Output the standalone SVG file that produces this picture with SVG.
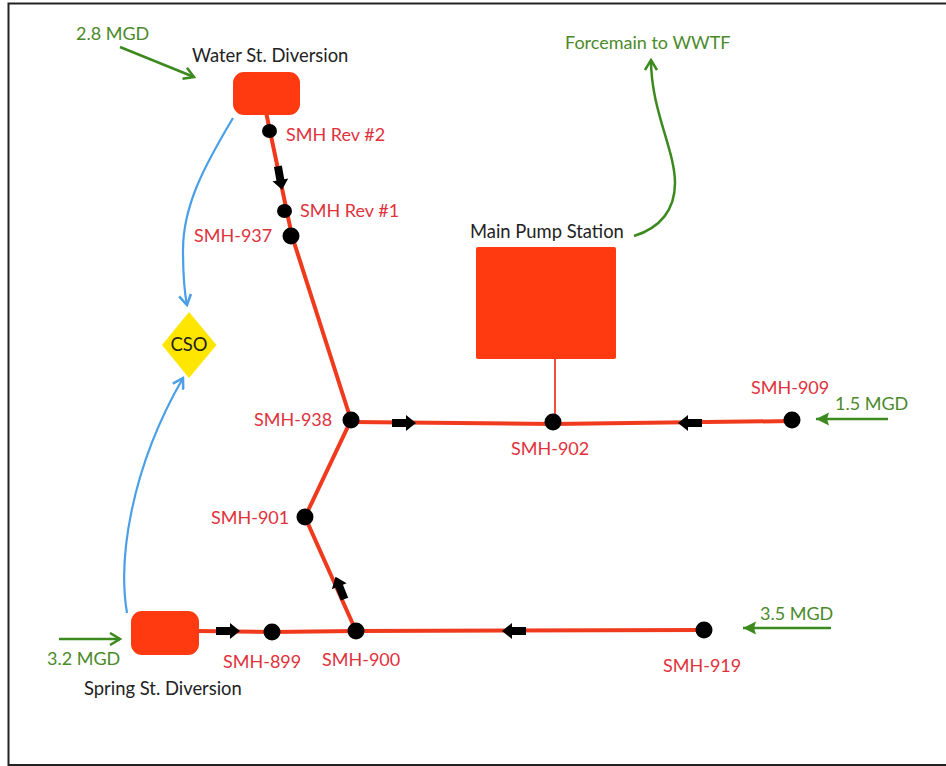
<svg xmlns="http://www.w3.org/2000/svg" width="946" height="766" viewBox="0 0 946 766">
<defs>
<marker id="g" markerWidth="14" markerHeight="14" refX="12" refY="7" orient="auto" markerUnits="userSpaceOnUse"><path d="M2 1L12 7L2 13" fill="none" stroke="#3c8a1e" stroke-width="2.500"/></marker>
<marker id="gf" markerWidth="14" markerHeight="14" refX="13" refY="7" orient="auto" markerUnits="userSpaceOnUse"><path d="M13 7L0 0.500L2 7L0 13.500Z" fill="#3c8a1e"/></marker>
<marker id="b" markerWidth="14" markerHeight="14" refX="12" refY="7" orient="auto" markerUnits="userSpaceOnUse"><path d="M2 1L12 7L2 13" fill="none" stroke="#4a9fe8" stroke-width="2.500"/></marker>
<path id="fa" d="M-12 -4H2V-8L12 0L2 8V4H-12Z" fill="#000"/>
</defs>
<style>
text{font-family:Lato,"Open Sans",sans-serif;font-size:18px}
.r{fill:#e0323c}.g{fill:#4b8a2a}.k{fill:#222;font-size:18.400px}
.p{fill:none;stroke:#f03a1e;stroke-width:4}
.gl{fill:none;stroke:#3c8a1e;stroke-width:2.500}
.bl{fill:none;stroke:#4a9fe8;stroke-width:2.200}
.m{fill:#000}.box{fill:#ff3a10}
</style>
<rect id="frame" x="8.500" y="3.500" width="960" height="761.500" fill="#fff" stroke="#222" stroke-width="2"/>
<g id="connectors">
<path class="p" d="M266 112L292 236L351 420L305 517L356 631"/>
<path class="p" d="M351 422L553 424L792 421"/>
<path class="p" d="M198 631L272 632L356 631L704 630"/>
<path d="M555 358V422" fill="none" stroke="#f0503a" stroke-width="2"/>
<path class="gl" marker-end="url(#g)" d="M120 47L194 77"/>
<path class="gl" marker-end="url(#g)" d="M59 639H120"/>
<path class="gl" marker-end="url(#gf)" d="M888 419H816"/>
<path class="gl" marker-end="url(#gf)" d="M831 628H743"/>
<path class="gl" marker-end="url(#g)" d="M634 236C660 228 675 210 675 183C675 150 651 110 651 60"/>
<path class="bl" marker-end="url(#b)" d="M233 118C205 165 183 205 183 250C183 270 184 290 187 305"/>
<path class="bl" marker-end="url(#b)" d="M127 613C118 560 130 470 183 378"/>
<use href="#fa" transform="translate(280 178) rotate(80)"/>
<use href="#fa" transform="translate(404 423)"/>
<use href="#fa" transform="translate(690 423) rotate(180)"/>
<use href="#fa" transform="translate(340 588) rotate(-112)"/>
<use href="#fa" transform="translate(228 631)"/>
<use href="#fa" transform="translate(514 631) rotate(180)"/>
</g>
<g id="water-st"><rect class="box" x="233" y="72" width="67" height="43" rx="11"/><text class="k" x="192" y="62">Water St. Diversion</text></g>
<g id="spring-st"><rect class="box" x="131" y="611" width="68" height="44" rx="11"/><text class="k" x="84" y="695">Spring St. Diversion</text></g>
<g id="main-pump"><rect class="box" x="476" y="247" width="140" height="112" rx="2"/><text class="k" x="470" y="238">Main Pump Station</text></g>
<g id="cso"><path d="M189 312L216.500 345L189 378L162 345Z" fill="#ffe600"/><text class="k" x="189" y="351" text-anchor="middle">CSO</text></g>
<g id="smh-rev2"><ellipse class="m" cx="269.500" cy="131" rx="7.500" ry="7"/><text class="r" x="286" y="141">SMH Rev #2</text></g>
<g id="smh-rev1"><ellipse class="m" cx="284.500" cy="211" rx="7.500" ry="7"/><text class="r" x="300" y="217">SMH Rev #1</text></g>
<g id="smh-937"><circle class="m" cx="291" cy="236" r="8.500"/><text class="r" x="194" y="242">SMH-937</text></g>
<g id="smh-938"><circle class="m" cx="351" cy="420" r="8.500"/><text class="r" x="254" y="426">SMH-938</text></g>
<g id="smh-901"><circle class="m" cx="305" cy="517" r="8.500"/><text class="r" x="211" y="524">SMH-901</text></g>
<g id="smh-899"><circle class="m" cx="272" cy="632" r="8.500"/><text class="r" x="223" y="668">SMH-899</text></g>
<g id="smh-900"><circle class="m" cx="356" cy="631" r="8.500"/><text class="r" x="322" y="666">SMH-900</text></g>
<g id="smh-919"><circle class="m" cx="704" cy="630" r="8.500"/><text class="r" x="663" y="672">SMH-919</text></g>
<g id="smh-902"><circle class="m" cx="553" cy="422" r="8.500"/><text class="r" x="511" y="455">SMH-902</text></g>
<g id="smh-909"><circle class="m" cx="792" cy="420" r="8.500"/><text class="r" x="751" y="394">SMH-909</text></g>
<g id="flows">
<text class="g" x="76" y="40">2.8 MGD</text>
<text class="g" x="47" y="665">3.2 MGD</text>
<text class="g" x="835" y="410">1.5 MGD</text>
<text class="g" x="760" y="620">3.5 MGD</text>
<text class="g" x="565" y="49">Forcemain to WWTF</text>
</g>
</svg>
